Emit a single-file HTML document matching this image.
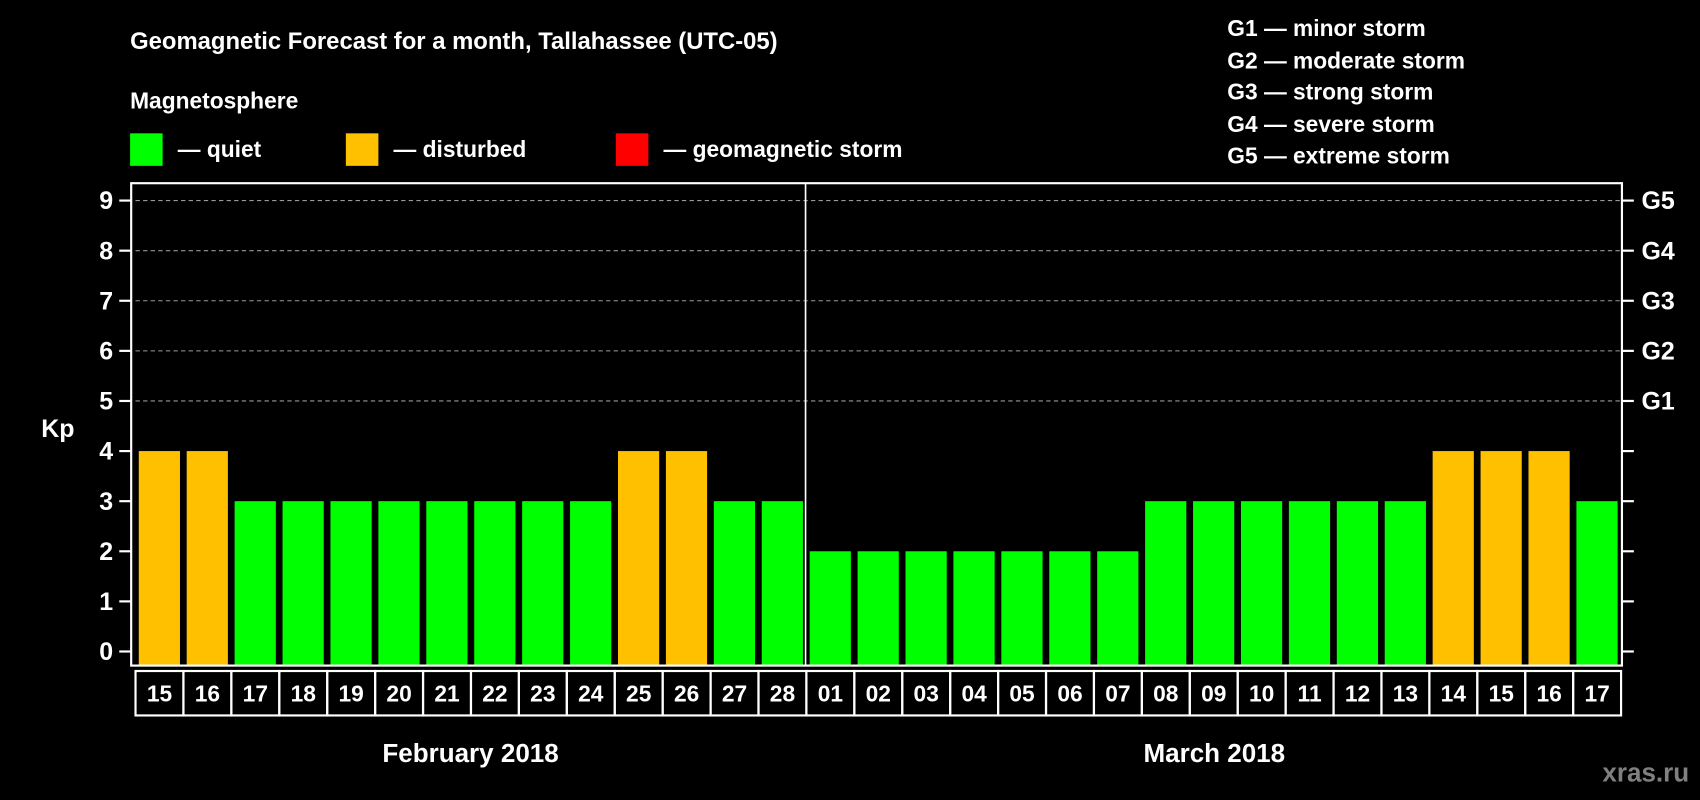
<!DOCTYPE html>
<html><head><meta charset="utf-8"><style>
html,body{margin:0;padding:0;background:#000;width:1700px;height:800px;overflow:hidden}
svg{display:block}
text{font-family:"Liberation Sans",Arial,sans-serif;font-weight:bold;fill:#fff}
</style></head><body>
<svg id="chart" width="1700" height="800" viewBox="0 0 1568 738" preserveAspectRatio="none">
<rect width="1568" height="738" fill="#000"/>
<text x="120" y="45" font-size="22">Geomagnetic Forecast for a month, Tallahassee (UTC-05)</text>
<text x="120" y="100" font-size="21">Magnetosphere</text>
<g><rect x="120" y="123" width="30" height="30" fill="#00ff00"/><text x="164" y="145" font-size="21">— quiet</text></g>
<g><rect x="319" y="123" width="30" height="30" fill="#ffc000"/><text x="363" y="145" font-size="21">— disturbed</text></g>
<g><rect x="568" y="123" width="30" height="30" fill="#ff0000"/><text x="612" y="145" font-size="21">— geomagnetic storm</text></g>
<g font-size="21">
<text x="1132" y="33">G1 — minor storm</text>
<text x="1132" y="63">G2 — moderate storm</text>
<text x="1132" y="92">G3 — strong storm</text>
<text x="1132" y="122">G4 — severe storm</text>
<text x="1132" y="151">G5 — extreme storm</text>
</g>
<text x="38" y="403" font-size="23">Kp</text>
<g id="grid"></g>
<g id="bars"></g>
<rect x="121" y="169" width="1375" height="445" fill="none" stroke="#fff" stroke-width="2"/>
<line x1="743" y1="169" x2="743" y2="614" stroke="#fff" stroke-width="1.5"/>
<g id="labels"></g>
<text x="434" y="703" font-size="24" text-anchor="middle">February 2018</text>
<text x="1120" y="703" font-size="24" text-anchor="middle">March 2018</text>
<text x="1558" y="721" font-size="24" text-anchor="end" style="fill:#808080">xras.ru</text>
</svg>
<script>
const days = ["15","16","17","18","19","20","21","22","23","24","25","26","27","28","01","02","03","04","05","06","07","08","09","10","11","12","13","14","15","16","17"];
const kpValues = [4,4,3,3,3,3,3,3,3,3,4,4,3,3,2,2,2,2,2,2,2,3,3,3,3,3,3,4,4,4,3];
const yTicks = [0,1,2,3,4,5,6,7,8,9];
const gLabels = ["G1","G2","G3","G4","G5"];
const NS="http://www.w3.org/2000/svg";
const y = v => 601 - v*46.22;
const x = i => 125 + i*44.2;
function mk(tag, attrs, parent){const e=document.createElementNS(NS,tag);for(const k in attrs)e.setAttribute(k,attrs[k]);parent.appendChild(e);return e;}
const grid=document.getElementById('grid'), bars=document.getElementById('bars'), labels=document.getElementById('labels');
yTicks.forEach(t=>{
  if(t>=5){const l=mk('line',{x1:125,x2:1496,y1:y(t),y2:y(t),stroke:'#999','stroke-dasharray':'4,3','stroke-width':1},grid);
  
  }
  const tl=mk('line',{x1:110,x2:121,y1:y(t),y2:y(t),stroke:'#fff','stroke-width':2},grid);
  
  
  const tr=mk('line',{x1:1496,x2:1507,y1:y(t),y2:y(t),stroke:'#fff','stroke-width':2},grid);
  
  
  const tx=mk('text',{x:98,y:y(t)+8,'font-size':23,'text-anchor':'middle'},grid);
  tx.textContent=t;
  
  
  if(t>=5){const g=mk('text',{x:1514,y:y(t)+8,'font-size':23},grid);
  g.textContent=gLabels[t-5];
  
  }
});
kpValues.forEach((v,i)=>{
  const col = v>=5?'#ff0000':(v>=4?'#ffc000':'#00ff00');
  const b=mk('rect',{x:x(i)+3,y:y(v),width:38,height:y(0)-y(v)+12,fill:col},bars);
  
  
  const c=mk('rect',{x:x(i),y:619,width:44.2,height:41,fill:'none',stroke:'#fff','stroke-width':2},labels);
  
  
  const t=mk('text',{x:x(i)+22.1,y:647,'font-size':21,'text-anchor':'middle'},labels);
  t.textContent=days[i];
  
  
});
</script>
</body></html>
